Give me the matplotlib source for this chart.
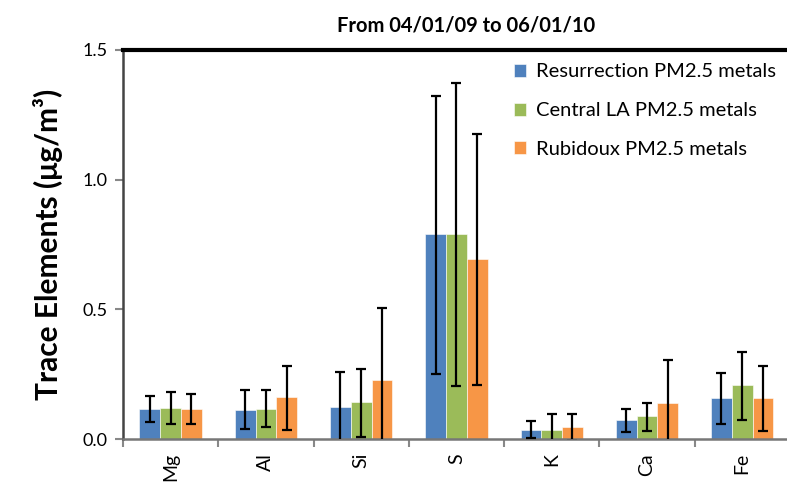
import numpy as np
import matplotlib.pyplot as plt

plt.rcParams['font.family'] = ['Lato', 'DejaVu Sans']

elements = ['Mg', 'Al', 'Si', 'S', 'K', 'Ca', 'Fe']
series = ['Resurrection PM2.5 metals', 'Central LA PM2.5 metals', 'Rubidoux PM2.5 metals']
colors = ['#4F81BD', '#9BBB59', '#F79646']

# mean values
resurrection = [0.116, 0.112, 0.123, 0.789, 0.036, 0.072, 0.157]
central_la = [0.120, 0.116, 0.143, 0.789, 0.036, 0.087, 0.207]
rubidoux = [0.116, 0.162, 0.226, 0.694, 0.046, 0.139, 0.157]

# error bar ends (upper / lower)
resurrection_hi = [0.167, 0.189, 0.258, 1.323, 0.068, 0.116, 0.254]
resurrection_lo = [0.067, 0.039, -0.012, 0.249, 0.004, 0.027, 0.057]
central_la_hi = [0.183, 0.189, 0.270, 1.373, 0.095, 0.137, 0.335]
central_la_lo = [0.057, 0.046, 0.008, 0.203, -0.023, 0.031, 0.073]
rubidoux_hi = [0.175, 0.280, 0.506, 1.177, 0.098, 0.306, 0.280]
rubidoux_lo = [0.057, 0.033, -0.054, 0.207, -0.006, -0.028, 0.031]

means = [resurrection, central_la, rubidoux]
highs = [resurrection_hi, central_la_hi, rubidoux_hi]
lows = [resurrection_lo, central_la_lo, rubidoux_lo]

fig = plt.figure(figsize=(7.87, 4.92), dpi=100)
ax = fig.add_axes([123 / 787, 1 - 439 / 492, 664 / 787, 389 / 492])

x = np.arange(len(elements))
w = 0.218
for i in range(3):
    m = np.array(means[i])
    err = [m - np.array(lows[i]), np.array(highs[i]) - m]
    ax.bar(x + (i - 1) * w, m, w, color=colors[i], edgecolor='white',
           linewidth=0.4, label=series[i], zorder=2)
    ax.errorbar(x + (i - 1) * w, m, yerr=err, fmt='none', ecolor='black',
                elinewidth=1.6, capsize=3.5, capthick=1.6, zorder=3)

ax.set_ylim(0, 1.5)
ax.set_xlim(-0.5, 6.47)
ax.set_yticks([0, 0.5, 1.0, 1.5])
ax.set_yticklabels(['0.0', '0.5', '1.0', '1.5'], fontsize=13)
ax.set_xticks(x)
ax.set_xticklabels(elements, rotation=90, fontsize=14)
ax.tick_params(axis='x', length=0, pad=10)
ax.set_xticks(np.arange(-0.5, 6.5, 1), minor=True)
ax.tick_params(axis='x', which='minor', length=6, width=1.5, color='#888888')
ax.tick_params(axis='y', length=6, width=1.5, color='#888888', pad=5)

ax.spines['right'].set_visible(False)
ax.spines['top'].set_linewidth(3)
ax.spines['top'].set_color('black')
ax.spines['left'].set_linewidth(1.8)
ax.spines['left'].set_color('#444444')
ax.spines['bottom'].set_linewidth(1.8)
ax.spines['bottom'].set_color('#777777')

ax.set_ylabel('Trace Elements (μg/m³)', fontsize=21.5, fontweight='bold', labelpad=14)
ax.set_title('From 04/01/09 to 06/01/10', fontsize=14.5, fontweight='bold', pad=13, x=0.517)

ax.legend(loc='upper right', frameon=False, fontsize=14.5, handlelength=0.6,
          handleheight=0.6, handletextpad=0.45, labelspacing=1.08,
          bbox_to_anchor=(1.01, 1.012))

fig.savefig('out.png', dpi=100)
